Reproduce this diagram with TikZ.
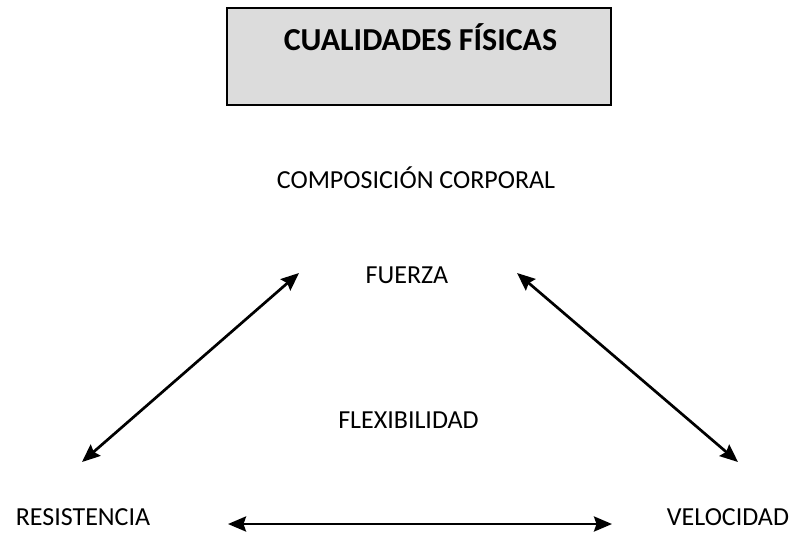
\documentclass[tikz,border=0pt]{standalone}
\usepackage{fontspec}
\setmainfont{Carlito}
\usetikzlibrary{arrows.meta}
\definecolor{boxgray}{HTML}{DCDCDC}
\tikzset{
  lbl/.style={font=\fontsize{26}{30}\selectfont, inner sep=0pt, anchor=base},
  dbl/.style={line width=2.7pt, {Stealth[length=18pt,width=15pt,inset=2.5pt]}-{Stealth[length=18pt,width=15pt,inset=2.5pt]}},
}
\begin{document}
\begin{tikzpicture}[x=1pt,y=-1pt]
\useasboundingbox (0,0) rectangle (794,533);
\node[draw, line width=1.4pt, fill=boxgray, minimum width=384pt, minimum height=97pt, inner sep=0pt] (box) at (419,56.5) {};
\node[font=\bfseries\fontsize{32}{36}\selectfont, inner sep=0pt, anchor=base] (title) at (420.5,50) {CUALIDADES FÍSICAS};
\node[lbl] (comp) at (416,188) {COMPOSICIÓN CORPORAL};
\node[lbl] (fuerza) at (407,283) {FUERZA};
\node[lbl] (flex) at (408.5,428) {FLEXIBILIDAD};
\node[lbl] (res) at (83,525) {RESISTENCIA};
\node[lbl] (vel) at (728,525) {VELOCIDAD};
\coordinate (l1) at (82,462);
\coordinate (l2) at (299,273);
\coordinate (r1) at (517,273);
\coordinate (r2) at (738,462);
\coordinate (b1) at (228,524);
\coordinate (b2) at (612,524);
\draw[dbl] (l1) -- (l2);
\draw[dbl] (r1) -- (r2);
\draw[dbl] (b1) -- (b2);
\end{tikzpicture}
\end{document}
